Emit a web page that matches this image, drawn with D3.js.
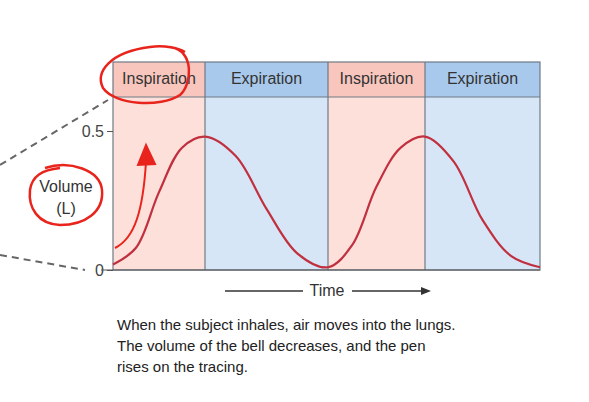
<!DOCTYPE html>
<html><head><meta charset="utf-8">
<script src="https://cdn.jsdelivr.net/npm/d3@7"></script>
<style>body{margin:0;background:#fff;font-family:"Liberation Sans",Arial,sans-serif}</style>
</head><body><div id="vis"></div>
<script>
// phases and volume trace
const phases = ['Inspiration', 'Expiration', 'Inspiration', 'Expiration'];
const times = [0, 0.25, 0.5, 0.75, 1, 1.25, 1.5, 1.75, 2, 2.25, 2.5, 2.75, 3, 3.25, 3.5, 3.75, 4];
const volume = [0.02, 0.08, 0.28, 0.44, 0.48, 0.41, 0.22, 0.06, 0.01, 0.09, 0.30, 0.44, 0.48, 0.39, 0.18, 0.05, 0.01];
const yTicks = [0, 0.5];
const caption = ['When the subject inhales, air moves into the lungs.',
  'The volume of the bell decreases, and the pen',
  'rises on the tracing.'];

const svg = d3.select('#vis').append('svg').attr('width', 589).attr('height', 402);

const x = d3.scaleLinear().domain([0, 1, 2, 3, 4]).range([113, 205, 328, 425, 540]);
const y = d3.scaleLinear().domain([0, 0.5]).range([270, 131]);
const bandTop = 62, bandBottom = 97;

// background bands
phases.forEach((p, i) => {
  const insp = p === 'Inspiration';
  svg.append('rect').attr('x', x(i)).attr('y', bandBottom).attr('width', x(i + 1) - x(i))
    .attr('height', y(0) - bandBottom).attr('fill', insp ? '#fde0da' : '#d6e6f7');
  svg.append('rect').attr('x', x(i)).attr('y', bandTop).attr('width', x(i + 1) - x(i))
    .attr('height', bandBottom - bandTop).attr('fill', insp ? '#f8c6bd' : '#a9c9ec');
  svg.append('text').attr('x', (x(i) + x(i + 1)) / 2).attr('y', 84).attr('text-anchor', 'middle')
    .attr('font-size', 16).attr('fill', '#333').text(p);
});
// frame lines
svg.append('rect').attr('x', x(0)).attr('y', bandTop).attr('width', x(4) - x(0)).attr('height', y(0) - bandTop)
  .attr('fill', 'none').attr('stroke', '#6e7a86').attr('stroke-width', 1.2);
svg.append('line').attr('x1', x(0)).attr('x2', x(4)).attr('y1', bandBottom).attr('y2', bandBottom)
  .attr('stroke', '#6e7a86').attr('stroke-width', 1.2);
[1, 2, 3].forEach(i => svg.append('line').attr('x1', x(i)).attr('x2', x(i)).attr('y1', bandTop).attr('y2', y(0))
  .attr('stroke', '#6e7a86').attr('stroke-width', 1.2));

// y axis
const yAxis = svg.append('g').attr('transform', `translate(${x(0)},0)`)
  .call(d3.axisLeft(y).tickValues(yTicks).tickFormat(d => d === 0 ? '0' : d).tickSize(6));
yAxis.select('.domain').remove();
yAxis.selectAll('line').attr('stroke', '#555');
yAxis.selectAll('text').attr('font-size', 16).attr('fill', '#444').attr('font-family', 'Liberation Sans');
svg.append('line').attr('x1', 101).attr('x2', x(4)).attr('y1', y(0)).attr('y2', y(0)).attr('stroke', '#555').attr('stroke-width', 1.2);

svg.append('text').attr('x', 66).attr('y', 192).attr('text-anchor', 'middle').attr('font-size', 16).attr('fill', '#333').text('Volume');
svg.append('text').attr('x', 66).attr('y', 214).attr('text-anchor', 'middle').attr('font-size', 16).attr('fill', '#333').text('(L)');

// dashed lines
svg.append('line').attr('x1', 0).attr('y1', 165).attr('x2', 108).attr('y2', 100)
  .attr('stroke', '#666').attr('stroke-width', 2).attr('stroke-dasharray', '7,5');
svg.append('line').attr('x1', 0).attr('y1', 255).attr('x2', 85).attr('y2', 270)
  .attr('stroke', '#666').attr('stroke-width', 2).attr('stroke-dasharray', '7,5');

// trace
const line = d3.line().x((d, i) => x(times[i])).y(d => y(d)).curve(d3.curveCatmullRom);
svg.append('path').datum(volume).attr('d', line).attr('fill', 'none')
  .attr('stroke', '#c0303f').attr('stroke-width', 2.2);

// time arrow
svg.append('text').attr('x', 327).attr('y', 296).attr('text-anchor', 'middle').attr('font-size', 16).attr('fill', '#333').text('Time');
svg.append('line').attr('x1', 225).attr('x2', 303).attr('y1', 291).attr('y2', 291).attr('stroke', '#333').attr('stroke-width', 1.3);
svg.append('line').attr('x1', 352).attr('x2', 424).attr('y1', 291).attr('y2', 291).attr('stroke', '#333').attr('stroke-width', 1.3);
svg.append('path').attr('d', 'M431,291 L421,287 L421,295 Z').attr('fill', '#333');

caption.forEach((c, i) => svg.append('text').attr('x', 117).attr('y', 330 + i * 21)
  .attr('font-size', 15).attr('fill', '#222').text(c));

// red hand annotations
const red = '#e8241c';
svg.append('path').attr('d', 'M170,47 C195,50 192,85 180,95 C160,108 115,105 103,88 C95,72 110,52 150,47 C165,45 178,48 185,52')
  .attr('fill', 'none').attr('stroke', red).attr('stroke-width', 2.5);
svg.append('path').attr('d', 'M45,168 C70,160 100,170 102,190 C104,212 85,225 60,225 C38,224 28,208 30,190 C32,176 42,170 60,168')
  .attr('fill', 'none').attr('stroke', red).attr('stroke-width', 2.5);
svg.append('path').attr('d', 'M115,248 C135,238 143,210 146,162').attr('fill', 'none').attr('stroke', red).attr('stroke-width', 2);
svg.append('path').attr('d', 'M146,145 L138,165 L155,164 Z').attr('fill', red).attr('stroke', red).attr('stroke-width', 2);
</script></body></html>
